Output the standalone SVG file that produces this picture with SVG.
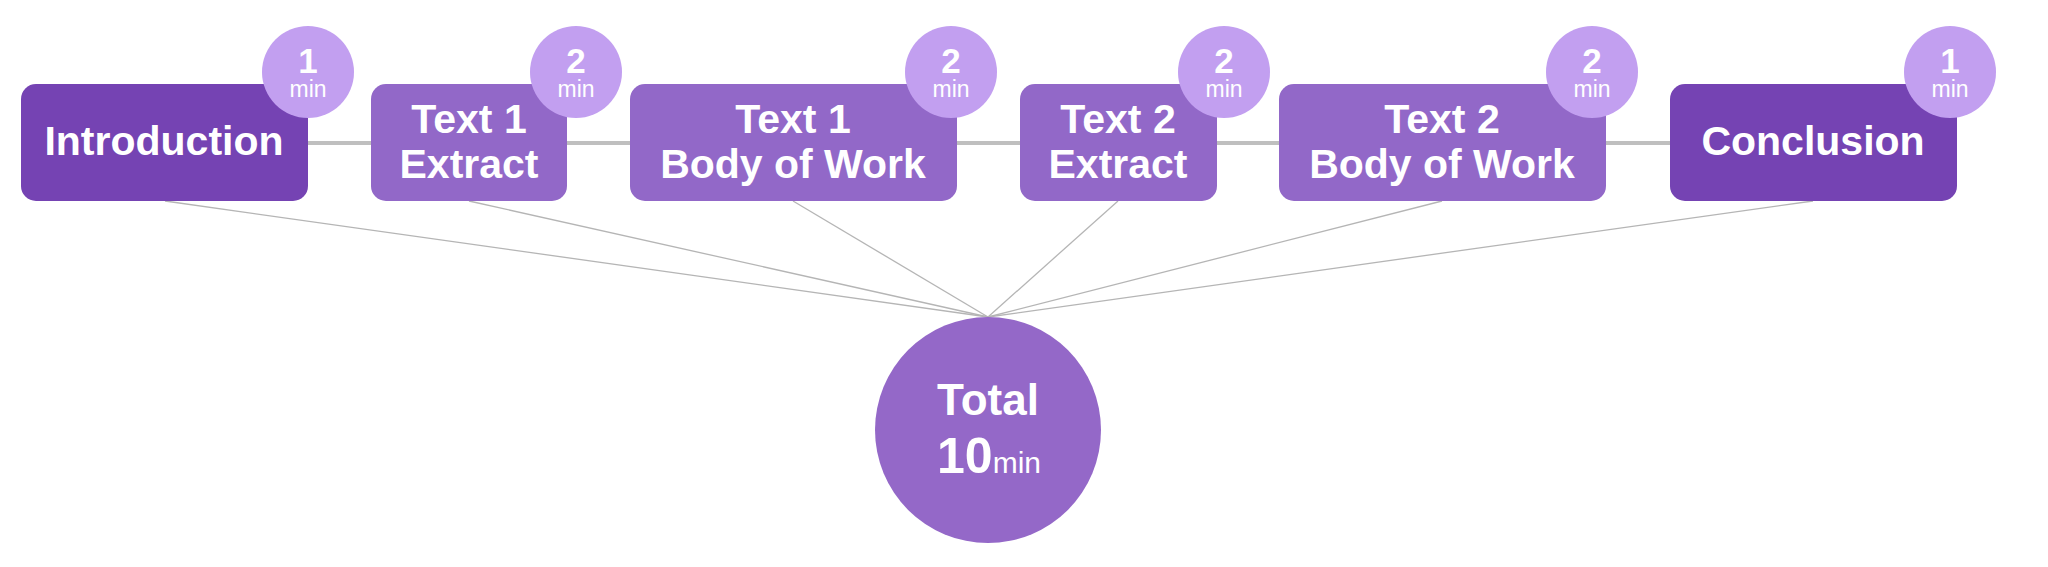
<svg xmlns="http://www.w3.org/2000/svg" width="2048" height="567" viewBox="0 0 2048 567">
<style>
.dark{fill:#7543b3}
.mid{fill:#9268c8}
.badge{fill:#c29ff0}
.big{fill:#9468c8}
.t{font-family:"Liberation Sans",Arial,sans-serif;font-weight:bold;fill:#ffffff;text-anchor:middle;font-size:41px}
.bt{font-family:"Liberation Sans",Arial,sans-serif;fill:#ffffff;text-anchor:middle}
.num{font-weight:bold;font-size:35px}
.min{font-weight:normal;font-size:23px}
.bar{stroke:#bfbfbf;stroke-width:4;fill:none}
.fan{stroke:#b5b5b5;stroke-width:1.3;fill:none}
</style>
<rect width="2048" height="567" fill="#ffffff"/>
<g id="connectors">
<line class="bar" x1="300" y1="143" x2="1680" y2="143"/>
<line class="fan" x1="165" y1="201" x2="988" y2="317"/>
<line class="fan" x1="469" y1="201" x2="988" y2="317"/>
<line class="fan" x1="793" y1="201" x2="988" y2="317"/>
<line class="fan" x1="1118" y1="201" x2="988" y2="317"/>
<line class="fan" x1="1442" y1="201" x2="988" y2="317"/>
<line class="fan" x1="1813" y1="201" x2="988" y2="317"/>
</g>
<g id="introduction">
<rect class="dark" x="21" y="84" width="287" height="117" rx="15"/>
<text class="t" x="164" y="155">Introduction</text>
<circle class="badge" cx="308" cy="72" r="46"/>
<text class="bt" x="308" y="73"><tspan class="num">1</tspan><tspan class="min" x="308" dy="24">min</tspan></text>
</g>
<g id="text1-extract">
<rect class="mid" x="371" y="84" width="196" height="117" rx="15"/>
<text class="t" x="469" y="133">Text 1</text>
<text class="t" x="469" y="178">Extract</text>
<circle class="badge" cx="576" cy="72" r="46"/>
<text class="bt" x="576" y="73"><tspan class="num">2</tspan><tspan class="min" x="576" dy="24">min</tspan></text>
</g>
<g id="text1-body">
<rect class="mid" x="630" y="84" width="327" height="117" rx="15"/>
<text class="t" x="793" y="133">Text 1</text>
<text class="t" x="793" y="178">Body of Work</text>
<circle class="badge" cx="951" cy="72" r="46"/>
<text class="bt" x="951" y="73"><tspan class="num">2</tspan><tspan class="min" x="951" dy="24">min</tspan></text>
</g>
<g id="text2-extract">
<rect class="mid" x="1020" y="84" width="197" height="117" rx="15"/>
<text class="t" x="1118" y="133">Text 2</text>
<text class="t" x="1118" y="178">Extract</text>
<circle class="badge" cx="1224" cy="72" r="46"/>
<text class="bt" x="1224" y="73"><tspan class="num">2</tspan><tspan class="min" x="1224" dy="24">min</tspan></text>
</g>
<g id="text2-body">
<rect class="mid" x="1279" y="84" width="327" height="117" rx="15"/>
<text class="t" x="1442" y="133">Text 2</text>
<text class="t" x="1442" y="178">Body of Work</text>
<circle class="badge" cx="1592" cy="72" r="46"/>
<text class="bt" x="1592" y="73"><tspan class="num">2</tspan><tspan class="min" x="1592" dy="24">min</tspan></text>
</g>
<g id="conclusion">
<rect class="dark" x="1670" y="84" width="287" height="117" rx="15"/>
<text class="t" x="1813" y="155">Conclusion</text>
<circle class="badge" cx="1950" cy="72" r="46"/>
<text class="bt" x="1950" y="73"><tspan class="num">1</tspan><tspan class="min" x="1950" dy="24">min</tspan></text>
</g>
<g id="total">
<circle class="big" cx="988" cy="430" r="113"/>
<text class="t" x="988" y="415" style="font-size:44px">Total</text>
<text x="989" y="473" style="font-family:'Liberation Sans',Arial,sans-serif;fill:#ffffff;text-anchor:middle"><tspan style="font-weight:bold;font-size:50px">10</tspan><tspan style="font-size:30px">min</tspan></text>
</g>
</svg>
